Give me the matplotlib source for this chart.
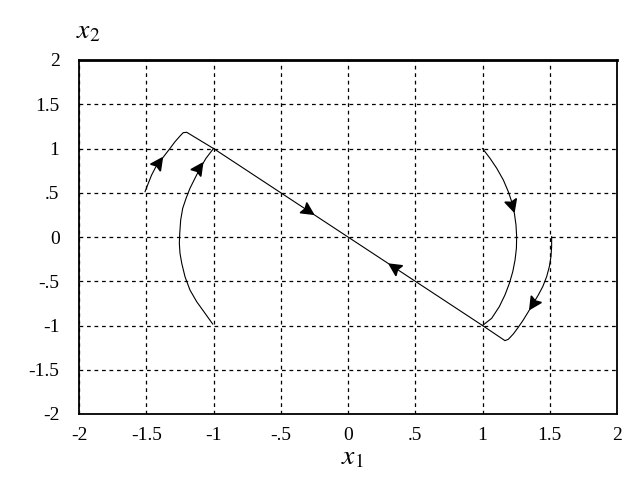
import numpy as np
import matplotlib.pyplot as plt
from matplotlib.patches import Polygon

# phase-plane trajectories (x1, x2)
left_outer_x = [-1.509, -1.485, -1.46, -1.428, -1.361, -1.323, -1.286, -1.249, -1.225, -1.199, -1.0]
left_outer_y = [0.512, 0.606, 0.701, 0.795, 0.927, 1.002, 1.077, 1.141, 1.179, 1.183, 1.0]

left_inner_x = [-1.006, -1.063, -1.125, -1.175, -1.212, -1.236, -1.249, -1.254, -1.251,
                -1.244, -1.229, -1.204, -1.175, -1.138, -1.1, -1.056, -1.0]
left_inner_y = [-0.983, -0.862, -0.731, -0.599, -0.448, -0.298, -0.185, -0.072, 0.042,
                0.192, 0.324, 0.437, 0.55, 0.663, 0.776, 0.889, 1.0]

right_inner_x = [1.0, 1.056, 1.106, 1.155, 1.192, 1.217, 1.237, 1.249, 1.254,
                 1.252, 1.242, 1.225, 1.2, 1.167, 1.125, 1.068, 1.0]
right_inner_y = [1.0, 0.889, 0.776, 0.644, 0.512, 0.399, 0.268, 0.136, 0.003,
                 -0.128, -0.26, -0.392, -0.523, -0.655, -0.787, -0.919, -1.0]

right_outer_x = [1.514, 1.514, 1.509, 1.497, 1.477, 1.448, 1.415, 1.378, 1.341,
                 1.303, 1.266, 1.229, 1.192, 1.167, 1.0]
right_outer_y = [0.003, -0.11, -0.222, -0.335, -0.448, -0.561, -0.655, -0.749, -0.844,
                 -0.938, -1.02, -1.096, -1.156, -1.171, -1.0]

slide_x = [-1.0, 1.0]
slide_y = [1.0, -1.0]

# arrow positions and directions (x, y, dx, dy)
arrows = [
    (-1.41, 0.83, 0.06, 0.13),
    (-1.11, 0.77, 0.09, 0.20),
    (-0.30, 0.30, 0.1, -0.1),
    (0.35, -0.35, -0.1, 0.1),
    (1.22, 0.36, 0.03, -0.15),
    (1.38, -0.75, -0.06, -0.14),
]

ticks = [-2, -1.5, -1, -0.5, 0, 0.5, 1, 1.5, 2]
tick_labels = ['-2', '-1.5', '-1', '-.5', '0', '.5', '1', '1.5', '2']

plt.rcParams['font.family'] = ['Liberation Serif', 'DejaVu Serif']
plt.rcParams['mathtext.fontset'] = 'stix'

fig = plt.figure(figsize=(6.4, 4.8), dpi=100)
ax = fig.add_axes([79 / 640, 66 / 480, 538 / 640, 354 / 480])
ax.set_xlim(-2, 2)
ax.set_ylim(-2, 2)

for xs, ys in [(left_outer_x, left_outer_y), (left_inner_x, left_inner_y),
               (right_inner_x, right_inner_y), (right_outer_x, right_outer_y),
               (slide_x, slide_y)]:
    ax.plot(xs, ys, color='black', lw=0.8)

# filled arrowheads, built in pixel space so they keep their shape
for x, y, dx, dy in arrows:
    p = ax.transData.transform((x, y))
    q = ax.transData.transform((x + dx, y + dy))
    d = (q - p) / np.hypot(*(q - p))
    n = np.array([-d[1], d[0]])
    tip = p + d * 7
    base = p - d * 5
    pts = [tip, base + n * 6, p - d * 3, base - n * 6]
    pts = ax.transData.inverted().transform(pts)
    ax.add_patch(Polygon(pts, closed=True, color='black', zorder=5))

ax.set_xticks(ticks)
ax.set_yticks(ticks)
ax.set_xticklabels(tick_labels)
ax.set_yticklabels(tick_labels)
ax.tick_params(length=0, labelsize=14, pad=9)
ax.tick_params(axis='y', pad=14)
ax.grid(True, color='black', linestyle=(0, (3, 3)), lw=0.9)

for side in ['left', 'bottom', 'right']:
    ax.spines[side].set_linewidth(1.3)
ax.spines['top'].set_linewidth(2)

fig.text(88 / 640, 1 - 32 / 480, r'$x_2$', fontsize=20, ha='center', va='center')
fig.text(352 / 640, 1 - 458 / 480, r'$x_1$', fontsize=20, ha='center', va='center')

plt.savefig('out.png', dpi=100)
